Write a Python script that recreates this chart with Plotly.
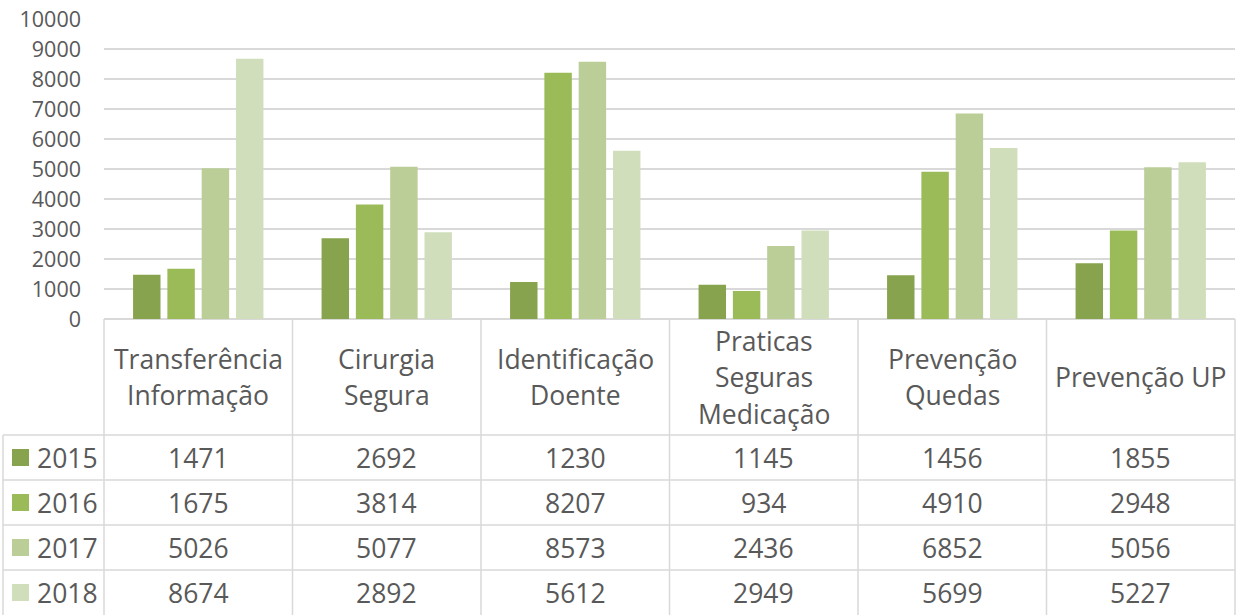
import plotly.graph_objects as go

categories = ["Transferência<br>Informação", "Cirurgia<br>Segura", "Identificação<br>Doente",
              "Praticas<br>Seguras<br>Medicação", "Prevenção<br>Quedas", "Prevenção UP"]
years = ["2015", "2016", "2017", "2018"]
v2015 = [1471, 2692, 1230, 1145, 1456, 1855]
v2016 = [1675, 3814, 8207, 934, 4910, 2948]
v2017 = [5026, 5077, 8573, 2436, 6852, 5056]
v2018 = [8674, 2892, 5612, 2949, 5699, 5227]
series = [v2015, v2016, v2017, v2018]
colors = ["#87A34D", "#9BBB59", "#BBCE97", "#D1DEBC"]

W, H = 1238, 615
L, R, T, B = 104, 3, 19, 296
PW = W - L - R
PH = H - T - B
TXT = "#595959"
GRID = "#D9D9D9"
FONT = "Open Sans"
TFS = 26.5

def xp(px):
    return (px - L) / PW

def yp(py):
    return (H - B - py) / PH

fig = go.Figure()
xs = list(range(len(categories)))
for yr, vals, c in zip(years, series, colors):
    fig.add_trace(go.Bar(x=xs, y=vals, name=yr, marker=dict(color=c, line=dict(width=0)),
                         hoverinfo="y"))

shapes = []
annotations = []
ncat = len(categories)
colw = PW / ncat
plot_bottom = H - B
header_bottom = 435
row_h = 45
left_x = 3

for i in range(len(years)):
    y = header_bottom + i * row_h
    shapes.append(dict(type="line", xref="paper", yref="paper", x0=xp(left_x), x1=xp(L + PW),
                       y0=yp(y), y1=yp(y), line=dict(color=GRID, width=1.5)))
for i in range(ncat + 1):
    x = L + i * colw
    shapes.append(dict(type="line", xref="paper", yref="paper", x0=xp(x), x1=xp(x),
                       y0=yp(plot_bottom), y1=yp(H + 2), line=dict(color=GRID, width=1.5)))
shapes.append(dict(type="line", xref="paper", yref="paper", x0=xp(left_x), x1=xp(left_x),
                   y0=yp(header_bottom), y1=yp(H + 2), line=dict(color=GRID, width=1.5)))

line_h = 36.5
hc = (plot_bottom + header_bottom) / 2
for i, cat in enumerate(categories):
    lines = cat.split("<br>")
    n = len(lines)
    cx = L + (i + 0.5) * colw
    for j, ln in enumerate(lines):
        cy = hc + (j - (n - 1) / 2) * line_h
        annotations.append(dict(x=xp(cx), y=yp(cy), xref="paper", yref="paper", text=ln,
                                showarrow=False, xanchor="center", yanchor="middle",
                                font=dict(family=FONT, size=TFS, color=TXT)))

for r, (yr, vals, c) in enumerate(zip(years, series, colors)):
    cy = header_bottom + (r + 0.5) * row_h
    shapes.append(dict(type="rect", xref="paper", yref="paper", x0=xp(12), x1=xp(29),
                       y0=yp(cy - 8.5), y1=yp(cy + 8.5), fillcolor=c, line=dict(width=0)))
    annotations.append(dict(x=xp(35), y=yp(cy), xref="paper", yref="paper", text=yr,
                            showarrow=False, xanchor="left", yanchor="middle",
                            font=dict(family=FONT, size=TFS, color=TXT)))
    for i, v in enumerate(vals):
        cx = L + (i + 0.5) * colw
        annotations.append(dict(x=xp(cx), y=yp(cy), xref="paper", yref="paper", text=str(v),
                                showarrow=False, xanchor="center", yanchor="middle",
                                font=dict(family=FONT, size=TFS, color=TXT)))

fig.update_layout(
    width=W, height=H,
    margin=dict(l=L, r=R, t=T, b=B, pad=0),
    paper_bgcolor="white", plot_bgcolor="white",
    barmode="group", bargap=0.272, bargroupgap=0.2,
    showlegend=False,
    shapes=shapes, annotations=annotations,
    font=dict(family=FONT, color=TXT),
)
fig.update_xaxes(range=[-0.5, ncat - 0.5], showticklabels=False, showgrid=False,
                 zeroline=False, showline=False, ticks="")
fig.update_yaxes(range=[0, 10000], dtick=1000, tickformat="d", showgrid=True,
                 gridcolor=GRID, gridwidth=1.5, zeroline=True, zerolinecolor=GRID,
                 zerolinewidth=1.5, showline=False, ticks="", ticklabelstandoff=22,
                 tickfont=dict(family=FONT, size=21.5, color=TXT))

fig.write_html("out.html", config={"displayModeBar": False},
               post_script="document.body.style.margin='0';document.body.style.overflow='hidden';")
